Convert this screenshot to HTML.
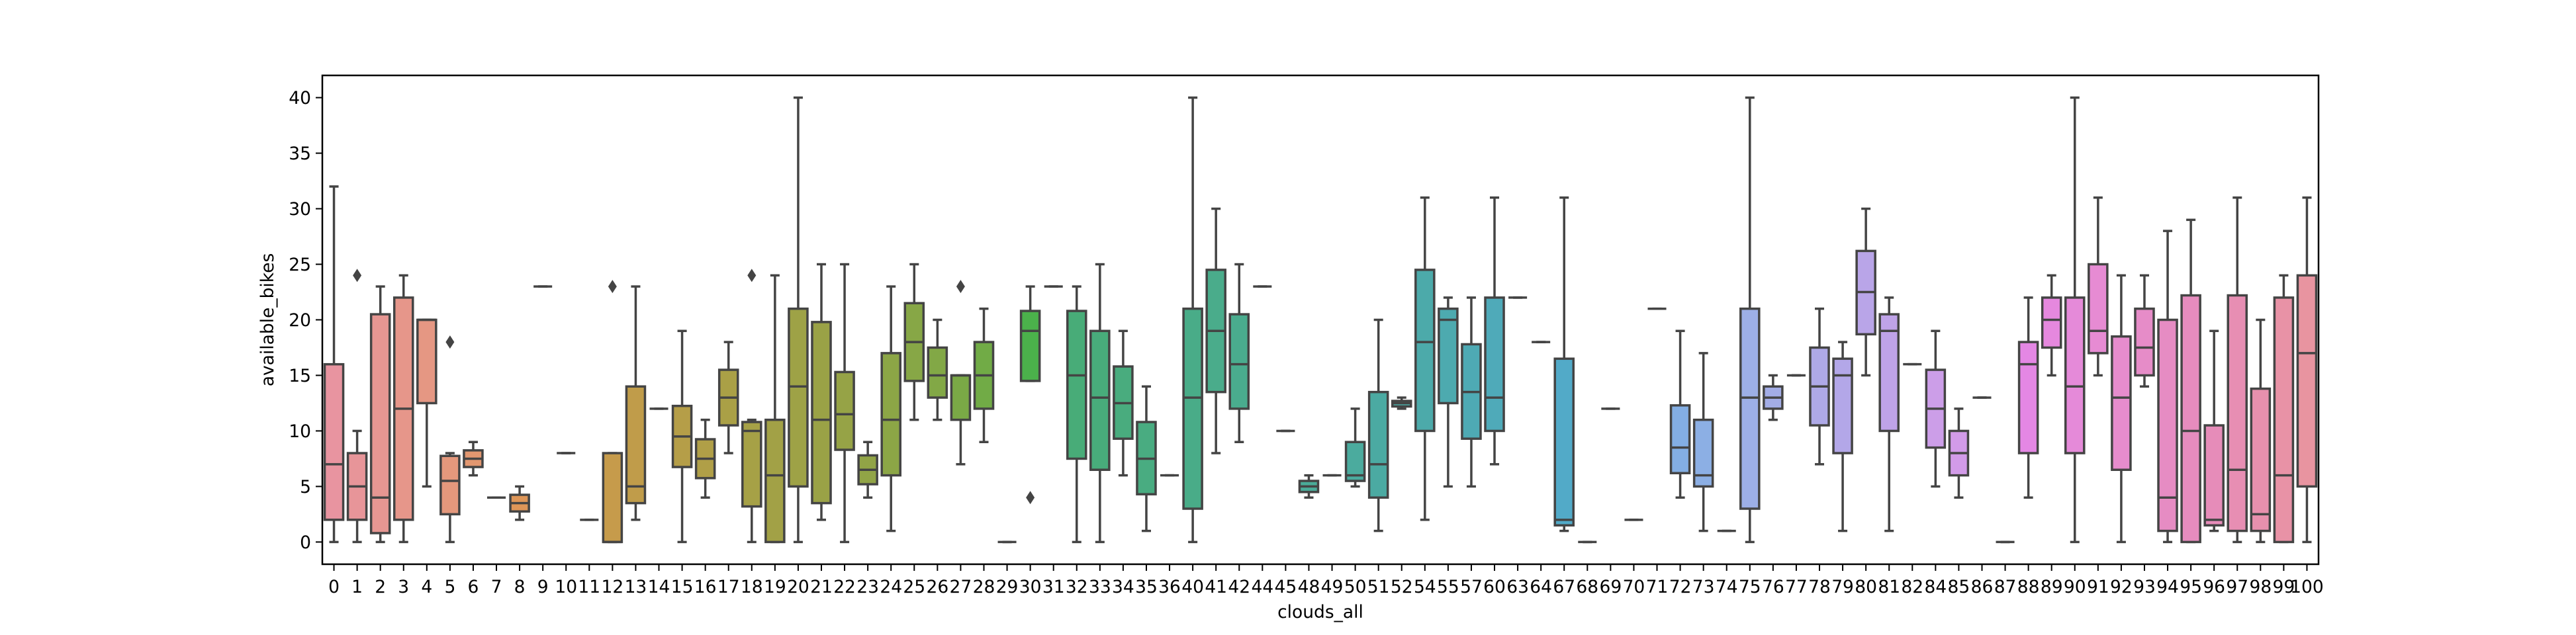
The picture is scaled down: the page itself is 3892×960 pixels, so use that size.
<!DOCTYPE html>
<html><head><meta charset="utf-8">
<style>
html,body{margin:0;padding:0;background:#fff;}
svg{display:block;font-family:"DejaVu Sans","Liberation Sans",sans-serif;}
</style></head>
<body>
<svg id="chart" width="3892" height="960" viewBox="0 0 3892 960" xmlns="http://www.w3.org/2000/svg">
<rect x="0" y="0" width="3892" height="960" fill="#fff"/>
<g id="boxes"></g>
<g id="axes"></g>
</svg>
<script>
const cats = [0,1,2,3,4,5,6,7,8,9,10,11,12,13,14,15,16,17,18,19,20,21,22,23,24,25,26,27,28,29,30,31,32,33,34,35,36,
40,41,42,44,45,48,49,50,51,52,54,55,57,60,63,64,67,68,69,70,71,72,73,74,75,76,77,78,79,80,81,82,84,85,86,87,
88,89,90,91,92,93,94,95,96,97,98,99,100];
const lo = [0,0,0,0,5,0,6,4,2,23, 8,2,0,2,12,0,4,8,0,0, 0,2,0,4,1,11,11,7,9,0, 14.5,23,0,0,6,1,6,
0,8,9,23,10,4,6,5,1,12, 2,5,5,7,22,18, 1,0,12,2,21,4,1,1,0,11, 15,7,1,15,1,16, 5,4,13,0,
4,15,0,15,0,14,0,0,1,0,0,0,0];
const q1 = [2,2,0.8,2,12.5,2.5,6.75,4,2.75,23, 8,2,0,3.5,12,6.75,5.75,10.5,3.2,0, 5,3.5,8.3,5.2,6,14.5,13,11,12,0, 14.5,23,7.5,6.5,9.3,4.3,6,
3,13.5,12,23,10,4.5,6,5.5,4,12.2, 10,12.5,9.3,10,22,18, 1.5,0,12,2,21,6.2,5,1,3,12, 15,10.5,8,18.7,10,16, 8.5,6,13,0,
8,17.5,8,17,6.5,15,1,0,1.5,1,1,0,5];
const med = [7,5,4,12,20,5.5,7.5,4,3.5,23, 8,2,0,5,12,9.5,7.5,13,10,6, 14,11,11.5,6.5,11,18,15,15,15,0, 19,23,15,13,12.5,7.5,6,
13,19,16,23,10,5,6,6,7,12.5, 18,20,13.5,13,22,18, 2,0,12,2,21,8.5,6,1,13,13, 15,14,15,22.5,19,16, 12,8,13,0,
16,20,14,19,13,17.5,4,10,2,6.5,2.5,6,17];
const q3 = [16,8,20.5,22,20,7.75,8.25,4,4.25,23, 8,2,8,14,12,12.25,9.25,15.5,10.8,11, 21,19.8,15.3,7.8,17,21.5,17.5,15,18,0, 20.8,23,20.8,19,15.8,10.8,6,
21,24.5,20.5,23,10,5.5,6,9,13.5,12.7, 24.5,21,17.8,22,22,18, 16.5,0,12,2,21,12.3,11,1,21,14, 15,17.5,16.5,26.2,20.5,16, 15.5,10,13,0,
18,22,22,25,18.5,21,20,22.2,10.5,22.2,13.8,22,24];
const hi = [32,10,23,24,20,8,9,4,5,23, 8,2,8,23,12,19,11,18,11,24, 40,25,25,9,23,25,20,15,21,0, 23,23,23,25,19,14,6,
40,30,25,23,10,6,6,12,20,13, 31,22,22,31,22,18, 31,0,12,2,21,19,17,1,40,15, 15,21,18,30,22,16, 19,12,13,0,
22,24,40,31,24,24,28,29,19,31,20,24,31];
const outCats = [1,5,12,18,27,30];
const outVals = [24,18,23,24,23,4];
const yTicks = [0,5,10,15,20,25,30,35,40];

const NS = "http://www.w3.org/2000/svg";
const L = 487, R = 3503, T = 114, B = 853;
const YMIN = -2, YMAX = 42;
const FS = 26.5;
const band = (R - L) / cats.length;
function xPos(i){ return L + (i + 0.5) * band; }
function yPos(v){ return B - (v - YMIN) / (YMAX - YMIN) * (B - T); }
const anchors = [[0,[232,148,160]],[5,[228,152,124]],[8,[222,150,88]],[12,[198,155,75]],[17,[170,160,70]],[22,[150,163,70]],
[26,[130,168,70]],[29,[105,172,70]],[30,[75,177,75]],[32,[72,172,120]],[40,[74,172,145]],[46,[75,170,165]],[53,[82,170,200]],
[57,[122,174,226]],[61,[157,175,230]],[66,[185,165,232]],[70,[210,155,232]],[73,[228,135,228]],[77,[230,140,205]],[81,[230,140,185]],[85,[232,148,160]]];
function colorAt(i){
  for(let k=0;k<anchors.length-1;k++){
    const [a,ca]=anchors[k],[b,cb]=anchors[k+1];
    if(i>=a&&i<=b){const t=(i-a)/(b-a);return 'rgb('+ca.map((c,j)=>Math.round(c+(cb[j]-c)*t)).join(',')+')';}
  }
  return 'rgb(232,148,160)';
}
function mk(tag, attrs, parent){
  const e=document.createElementNS(NS,tag);
  for(const k in attrs) e.setAttribute(k,attrs[k]);
  parent.appendChild(e); return e;
}
const gB=document.getElementById('boxes');
const gA=document.getElementById('axes');
const LC='#444', LW=3.5, bw=band*0.8;
cats.forEach((c,i)=>{
  const g=mk('g',{},gB);
  
  
  const x=xPos(i);
  const w1=mk('line',{x1:x,x2:x,y1:yPos(q3[i]),y2:yPos(hi[i]),stroke:LC,'stroke-width':LW},g);
  
  
  const w2=mk('line',{x1:x,x2:x,y1:yPos(q1[i]),y2:yPos(lo[i]),stroke:LC,'stroke-width':LW},g);
  
  
  const c1=mk('line',{x1:x-bw/4,x2:x+bw/4,y1:yPos(hi[i]),y2:yPos(hi[i]),stroke:LC,'stroke-width':LW},g);
  
  
  const c2=mk('line',{x1:x-bw/4,x2:x+bw/4,y1:yPos(lo[i]),y2:yPos(lo[i]),stroke:LC,'stroke-width':LW},g);
  
  
  const r=mk('rect',{x:x-bw/2,y:yPos(q3[i]),width:bw,height:Math.max(0,yPos(q1[i])-yPos(q3[i])),fill:colorAt(i),stroke:LC,'stroke-width':LW},g);
  
  
  const m=mk('line',{x1:x-bw/2,x2:x+bw/2,y1:yPos(med[i]),y2:yPos(med[i]),stroke:LC,'stroke-width':LW},g);
  
  
});
outCats.forEach((c,k)=>{
  const i=cats.indexOf(c); const x=xPos(i), y=yPos(outVals[k]);
  const p=mk('polygon',{points:`${x},${y-10} ${x+6.5},${y} ${x},${y+10} ${x-6.5},${y}`,fill:LC},gB);
  
  
});
const fr=mk('rect',{x:L,y:T,width:R-L,height:B-T,fill:'none',stroke:'#000','stroke-width':2.5},gA);


yTicks.forEach(v=>{
  const y=yPos(v);
  const t=mk('line',{x1:L-10,x2:L,y1:y,y2:y,stroke:'#000','stroke-width':2},gA);
  
  
  const tx=mk('text',{x:L-17,y:y+9.5,'text-anchor':'end','font-size':FS,fill:'#000'},gA);
  tx.textContent=v;
  
  
});
cats.forEach((c,i)=>{
  const x=xPos(i);
  const t=mk('line',{x1:x,x2:x,y1:B,y2:B+10,stroke:'#000','stroke-width':2},gA);
  
  
  const tx=mk('text',{x:x,y:896,'text-anchor':'middle','font-size':FS,fill:'#000'},gA);
  tx.textContent=c;
  
  
});
const xt=mk('text',{x:(L+R)/2,y:934,'text-anchor':'middle','font-size':FS,fill:'#000'},gA);
xt.textContent='clouds_all';


const yt=mk('text',{x:0,y:0,'text-anchor':'middle','font-size':FS,fill:'#000',transform:`translate(413,${(T+B)/2}) rotate(-90)`},gA);
yt.textContent='available_bikes';


</script>
</body></html>
